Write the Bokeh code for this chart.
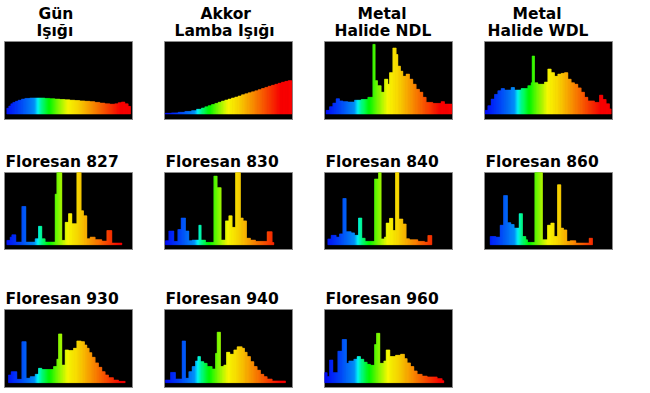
import colorsys
import numpy as np
from bokeh.plotting import figure
from bokeh.models import Range1d, Title, ColumnDataSource
from bokeh.layouts import column, row
from bokeh.embed import file_html
from bokeh.resources import INLINE

# ---------------- data (wavelength edges in nm, relative intensity per step) -------------
WL_MIN, WL_MAX = 379, 763

gun_nm = [386, 392, 398, 404, 412, 420, 430, 440, 455, 470, 485, 500, 515, 530, 545, 560,
          575, 590, 605, 620, 635, 650, 665, 680, 695, 710, 720, 730, 740, 750, 757]
gun_lv = [8, 11, 14, 16, 17.5, 19, 20.5, 21.5, 22, 22, 22, 21.5, 21, 20.5, 20, 19.5,
          19, 18.5, 18, 17.5, 17, 16, 15, 14, 13.5, 14, 15.5, 16.5, 14, 10.5]

akkor_nm = [381, 400, 420, 440, 460, 475, 490, 500, 510, 520, 530, 540, 550, 560, 570, 580,
            590, 600, 610, 620, 630, 640, 650, 660, 670, 680, 690, 700, 710, 720, 730, 740,
            750, 761]
akkor_lv = [1, 1.5, 2.3, 3.5, 4.6, 6.5, 8.2, 9.8, 11.4, 13, 14.6, 16.2, 17.8, 19.2, 20.5,
            22, 23.3, 24.8, 26.4, 27.8, 29.2, 30.5, 31.9, 33.5, 35.1, 36.7, 38.3, 39.6, 41,
            42.4, 43.8, 45, 46]

ndl_nm = [384, 394, 404, 414, 424, 434, 449, 469, 489, 509, 524, 531, 538, 549, 559, 569,
          574, 584, 594, 599, 607, 614, 624, 634, 644, 654, 664, 674, 684, 704, 729, 739, 761]
ndl_lv = [5, 10, 15, 21, 18, 17, 16.5, 19, 20, 23, 96, 46, 39, 30, 48, 41,
          57, 91, 82, 66, 59, 52, 55, 48, 41, 34, 30, 23, 16, 14.6, 17, 13.7]

wdl_nm = [381, 389, 399, 409, 419, 429, 439, 459, 469, 489, 509, 519, 522, 529, 539, 559,
          569, 579, 589, 599, 609, 619, 629, 639, 649, 659, 669, 679, 689, 709, 724, 734,
          744, 754, 759]
wdl_lv = [5, 11.4, 20.5, 27, 32, 35, 33, 36.5, 33, 35, 39, 43, 80, 43, 41, 44,
          62, 57, 52, 55, 56, 57, 48, 43, 41, 36, 30, 23, 18, 16, 26, 20, 14, 7]

f827_nm = [386, 396, 401, 413, 431, 443, 471, 481, 491, 501, 531, 536, 551, 561, 571, 581,
           596, 609, 616, 626, 636, 651, 671, 686, 701, 731]
f827_lv = [6, 10.5, 13.7, 3.6, 53, 3.6, 8.2, 25.5, 8.2, 3.6, 70, 105, 6, 31, 43, 29,
           105, 47, 40, 8.2, 10.5, 7, 5, 19.6, 2.3]

f830_nm = [382, 392, 407, 419, 429, 442, 452, 462, 482, 489, 502, 527, 537, 549, 562, 572,
           582, 592, 607, 615, 625, 637, 652, 687, 702, 707]
f830_lv = [5.5, 19, 4.6, 21, 37, 19, 5.5, 6.4, 27, 6.4, 3.2, 95, 79, 6.4, 33, 40,
           24, 105, 37, 33, 9, 6.4, 4.6, 18, 3]

f840_nm = [389, 399, 414, 424, 434, 444, 459, 469, 481, 491, 501, 529, 541, 549, 559, 564,
           574, 584, 592, 602, 614, 624, 634, 659, 679, 689, 701]
f840_lv = [8, 13, 10.5, 15, 64, 18, 16.4, 13, 37, 9, 4.6, 91, 105, 8, 10.5, 30,
           36.5, 19.6, 105, 35.6, 28.7, 8.2, 6.8, 4.6, 3.6, 12.8]

f860_nm = [396, 413, 426, 436, 448, 458, 468, 483, 493, 503, 508, 530, 553, 568, 578, 588,
           598, 608, 616, 626, 636, 653, 693, 703]
f860_lv = [11.4, 10.5, 27, 68, 30.5, 28, 23, 43, 11.4, 6.8, 3.2, 105, 6.8, 27, 30, 11.4,
           83, 23, 20.5, 4.6, 5.5, 2.3, 9]

f930_nm = [391, 399, 416, 431, 444, 456, 471, 481, 491, 506, 526, 536, 541, 551, 561, 571,
           586, 596, 609, 619, 626, 633, 641, 651, 661, 671, 681, 691, 706, 721, 741]
f930_lv = [10.5, 15, 4.6, 56, 6, 8.2, 11.4, 19.6, 18, 18, 22, 32, 66.6, 24, 44.7, 43.8,
           47, 57, 56, 51.5, 47, 41, 34.7, 27, 21, 15, 10.5, 6.8, 3.6, 1.8]

f940_nm = [382, 397, 412, 432, 442, 452, 462, 472, 479, 487, 497, 507, 522, 532, 537, 547,
           557, 565, 575, 587, 597, 612, 619, 627, 637, 647, 657, 667, 677, 687, 702, 742]
f940_lv = [3.6, 14, 5, 57, 6, 15, 22, 29.6, 35.6, 28.7, 26.4, 22, 18.7, 40, 69, 22,
           24, 41.5, 38.8, 44.7, 49, 47, 41.5, 35.6, 28.7, 22, 17, 11.4, 8.2, 5, 2.3]

f960_nm = [379, 387, 394, 404, 419, 432, 445, 452, 467, 477, 487, 497, 507, 517, 529, 535,
           545, 557, 564, 575, 592, 607, 619, 627, 637, 647, 657, 672, 687, 717, 732, 737]
f960_lv = [13.7, 8.2, 31, 13.7, 43, 59, 26.4, 29.6, 32, 35.6, 32, 28, 25, 23.7, 52, 67.5,
           26.4, 29.6, 44.7, 35.6, 37.4, 38.8, 32.8, 27, 22, 16, 11.4, 9, 7.8, 5.5, 2.7]

row1_titles = [("Gün", "Işığı"), ("Akkor", "Lamba Işığı"),
               ("Metal", "Halide NDL"), ("Metal", "Halide WDL")]
row2_titles = ["Floresan 827", "Floresan 830", "Floresan 840", "Floresan 860"]
row3_titles = ["Floresan 930", "Floresan 940", "Floresan 960"]

# hue (degrees) used to paint the spectrum as a function of wavelength
HUE_NM = [380, 430, 470, 490, 510, 540, 570, 600, 630, 660, 700, 730, 780]
HUE_DEG = [238, 222, 205, 155, 125, 90, 60, 52, 40, 28, 12, 0, 0]

FONT = "DejaVu Sans"
FSIZE = "15.5px"


def wl_color(nm):
    h = float(np.interp(nm, HUE_NM, HUE_DEG)) / 360.0
    r, g, b = colorsys.hsv_to_rgb(h, 1.0, 1.0)
    return "#%02x%02x%02x" % (int(r * 255 + .5), int(g * 255 + .5), int(b * 255 + .5))


def spectrum_source(edges, levels):
    L, R, T, C = [], [], [], []
    for e0, e1, lv in zip(edges[:-1], edges[1:], levels):
        n = max(1, int(np.ceil((e1 - e0) / 3.0)))
        xs = np.linspace(e0, e1, n + 1)
        for a, b in zip(xs[:-1], xs[1:]):
            L.append(float(a)); R.append(float(b)); T.append(lv)
            C.append(wl_color((a + b) / 2))
    return ColumnDataSource(dict(left=L, right=R, top=T, bottom=[0] * len(L), color=C))


def make_title(txt, off, so):
    kw = dict(text=txt, align="left", offset=off, text_font=FONT,
              text_font_style="bold", text_font_size=FSIZE, text_color="black")
    try:
        return Title(standoff=so, **kw)
    except Exception:
        return Title(standoff=0, **kw)


def make_panel(edges, levels, lines, offsets, standoffs, top_border, frame_h, ymin, right_border):
    p = figure(title=None, frame_width=128, frame_height=frame_h,
               x_range=Range1d(WL_MIN, WL_MAX), y_range=Range1d(ymin, 100),
               x_axis_location=None, y_axis_location=None, toolbar_location=None,
               output_backend="svg", min_border_left=4, min_border_right=right_border,
               min_border_top=top_border, min_border_bottom=0,
               background_fill_color="black", border_fill_color="white",
               outline_line_color="#8a8a8a", outline_line_width=1)
    p.grid.visible = False
    src = spectrum_source(edges, levels)
    p.quad(left="left", right="right", top="top", bottom="bottom", source=src,
           fill_color="color", line_color="color", line_width=0.6)
    # lines given from closest-to-panel upwards
    for txt, off, so in zip(lines, offsets, standoffs):
        p.add_layout(make_title(txt, off, so), "above")
    return p


row1_data = [(gun_nm, gun_lv), (akkor_nm, akkor_lv), (ndl_nm, ndl_lv), (wdl_nm, wdl_lv)]
row1_off = [(32, 34), (10, 36), (10, 33), (3, 28)]
row2_data = [(f827_nm, f827_lv), (f830_nm, f830_lv), (f840_nm, f840_lv), (f860_nm, f860_lv)]
row3_data = [(f930_nm, f930_lv), (f940_nm, f940_lv), (f960_nm, f960_lv)]

r1 = []
for i, ((e, l), (t1, t2), (o2, o1)) in enumerate(zip(row1_data, row1_titles, row1_off)):
    r1.append(make_panel(e, l, [t2, t1], [o2, o1], [3, -8], 41, 79, -9,
                         28 if i < 3 else 2))
r2 = []
for i, ((e, l), t) in enumerate(zip(row2_data, row2_titles)):
    r2.append(make_panel(e, l, [t], [1], [3], 52, 78, -8, 28 if i < 3 else 2))
r3 = []
for i, ((e, l), t) in enumerate(zip(row3_data, row3_titles)):
    r3.append(make_panel(e, l, [t], [1], [3], 59, 79, -8, 28))

layout = column(row(*r1), row(*r2), row(*r3))

open("out.html", "w").write(file_html(layout, INLINE))
